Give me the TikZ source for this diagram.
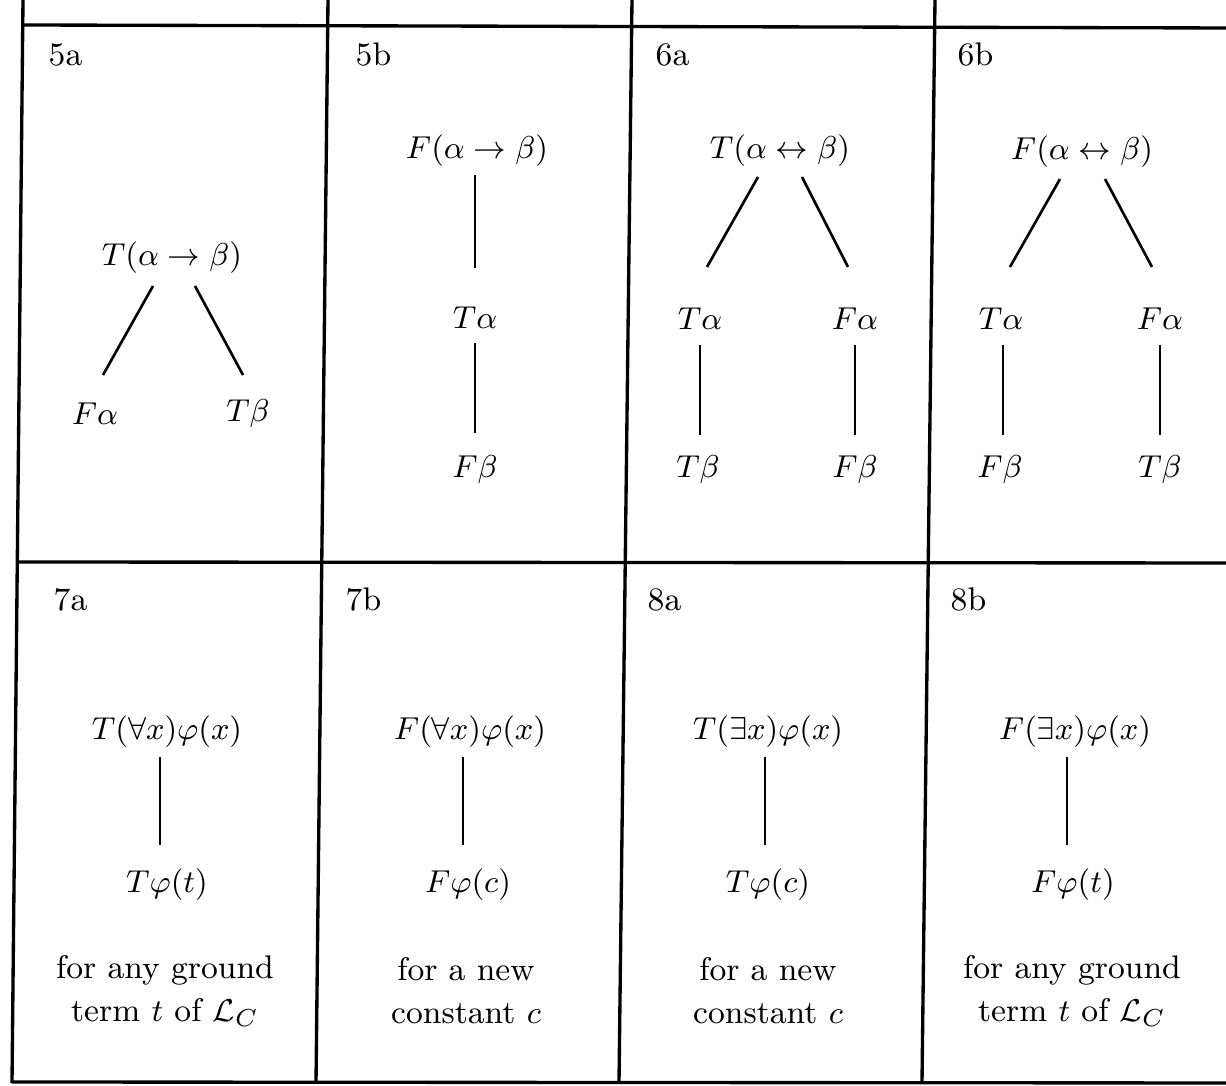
\documentclass[tikz,border=0pt]{standalone}
\usetikzlibrary{calc}
\begin{document}
\begin{tikzpicture}[x=0.01cm,y=-0.01cm,
  every node/.style={font=\fontsize{9.3}{12.2}\selectfont, inner sep=0pt},
  gridline/.style={line width=0.95pt},
  edge/.style={line width=0.75pt},
  tag/.style={anchor=west},
  note/.style={align=center}]
\useasboundingbox (0,0) rectangle (1226,1086);
% grid
\draw[gridline] (23,25) -- (1226,28);
\draw[gridline] (17,562) -- (1226,563);
\draw[gridline] (12,1082) -- (1226,1083);
\draw[gridline] (23,0) -- (12,1083);
\draw[gridline] (328,0) -- (316,1083);
\draw[gridline] (632,0) -- (619,1083);
\draw[gridline] (935,0) -- (922,1083);
% tags
\node[tag] (t5a) at (48,55) {5a};
\node[tag] (t5b) at (355,55) {5b};
\node[tag] (t6a) at (655,55) {6a};
\node[tag] (t6b) at (957,55) {6b};
\node[tag] (t7a) at (53,600) {7a};
\node[tag] (t7b) at (345,600) {7b};
\node[tag] (t8a) at (647,600) {8a};
\node[tag] (t8b) at (950,600) {8b};
% 5a
\node (a1) at (172,258) {$T(\alpha\rightarrow\beta)$};
\node (a2) at (95,414) {$F\alpha$};
\node (a3) at (248,414) {$T\beta$};
\draw[edge] ($(a1)+(-19,28)$) -- ($(a2)+(8,-39)$);
\draw[edge] ($(a1)+(23,28)$) -- ($(a3)+(-5,-39)$);
% 5b
\node (b1) at (477,151) {$F(\alpha\rightarrow\beta)$};
\node (b2) at (475,318) {$T\alpha$};
\node (b3) at (475,470) {$F\beta$};
\draw[edge] ($(b1)+(-2,24)$) -- ($(b2)+(0,-50)$);
\draw[edge] ($(b2)+(0,25)$) -- ($(b3)+(0,-37)$);
% 6a
\node (c1) at (780,151) {$T(\alpha\leftrightarrow\beta)$};
\node (c2) at (700,319) {$T\alpha$};
\node (c3) at (855,319) {$F\alpha$};
\node (c4) at (698,470) {$T\beta$};
\node (c5) at (855,470) {$F\beta$};
\draw[edge] ($(c1)+(-22,26)$) -- ($(c2)+(7,-52)$);
\draw[edge] ($(c1)+(22,26)$) -- ($(c3)+(-7,-52)$);
\draw[edge] ($(c2)+(0,26)$) -- ($(c4)+(2,-35)$);
\draw[edge] ($(c3)+(0,26)$) -- ($(c5)+(0,-35)$);
% 6b
\node (d1) at (1082,152) {$F(\alpha\leftrightarrow\beta)$};
\node (d2) at (1001,319) {$T\alpha$};
\node (d3) at (1160,319) {$F\alpha$};
\node (d4) at (1000,470) {$F\beta$};
\node (d5) at (1160,470) {$T\beta$};
\draw[edge] ($(d1)+(-22,27)$) -- ($(d2)+(9,-52)$);
\draw[edge] ($(d1)+(23,27)$) -- ($(d3)+(-8,-52)$);
\draw[edge] ($(d2)+(2,26)$) -- ($(d4)+(3,-35)$);
\draw[edge] ($(d3)+(0,26)$) -- ($(d5)+(0,-35)$);
% 7a
\node (e1) at (167,732) {$T(\forall x)\varphi(x)$};
\node (e2) at (167,885) {$T\varphi(t)$};
\draw[edge] ($(e1)+(-7,25)$) -- ($(e2)+(-7,-40)$);
\node[note] (e3) at (165,991) {for any ground\\term $t$ of $\mathcal{L}_C$};
% 7b
\node (f1) at (470,732) {$F(\forall x)\varphi(x)$};
\node (f2) at (468,885) {$F\varphi(c)$};
\draw[edge] ($(f1)+(-7,25)$) -- ($(f2)+(-5,-40)$);
\node[note] (f3) at (466,991) {for a new\\constant $c$};
% 8a
\node (g1) at (768,732) {$T(\exists x)\varphi(x)$};
\node (g2) at (768,885) {$T\varphi(c)$};
\draw[edge] ($(g1)+(-3,25)$) -- ($(g2)+(-3,-40)$);
\node[note] (g3) at (768,991) {for a new\\constant $c$};
% 8b
\node (h1) at (1075,732) {$F(\exists x)\varphi(x)$};
\node (h2) at (1073,885) {$F\varphi(t)$};
\draw[edge] ($(h1)+(-8,25)$) -- ($(h2)+(-6,-40)$);
\node[note] (h3) at (1072,991) {for any ground\\term $t$ of $\mathcal{L}_C$};
\end{tikzpicture}
\end{document}
